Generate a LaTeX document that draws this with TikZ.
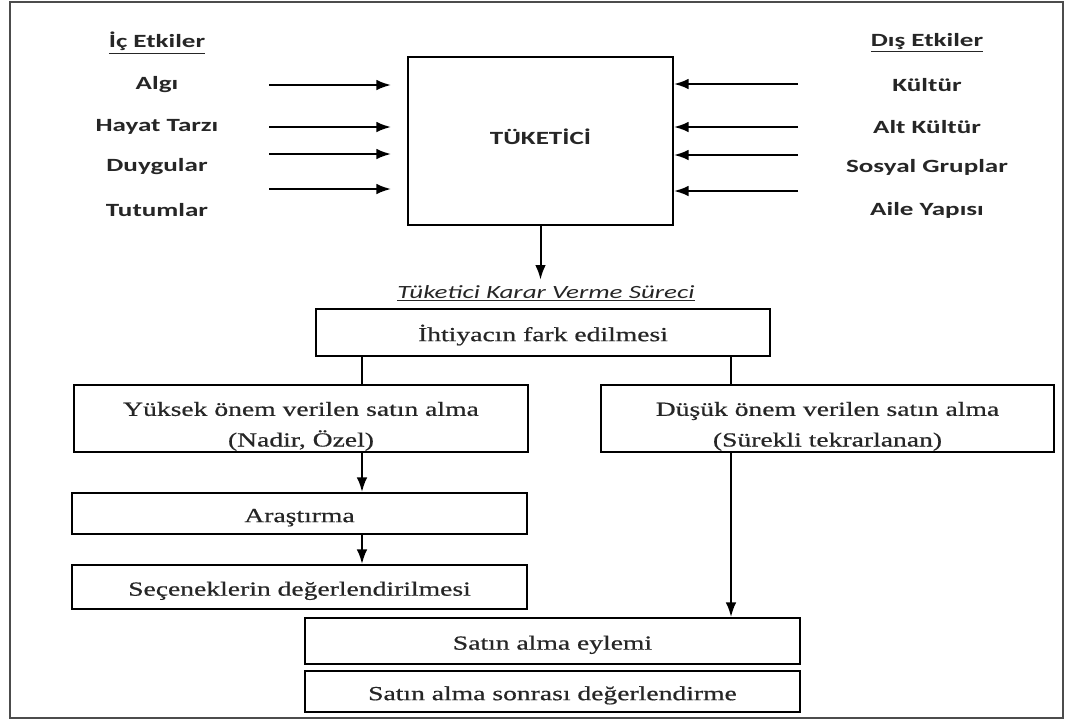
\documentclass[tikz,border=0pt]{standalone}
\usepackage{fontspec}
\newfontfamily\boxfont{Liberation Serif}[FakeStretch=1.38, FakeBold=0.6]
\newfontfamily\labelfont{Carlito}[FakeStretch=1.45]
\usetikzlibrary{arrows.meta}

\def\pxu{0.75pt}

\begin{document}
\begin{tikzpicture}[x=0.75pt, y=-0.75pt, line width=1.5pt,
    stepbox/.style={draw, inner sep=0pt, align=center, text=black!85,
      text height=13pt, text depth=0pt,
      font=\boxfont\fontsize{15}{23}\selectfont},
    twoline/.style={text height=42pt, text depth=0pt},
    factor/.style={text=black!85, font=\labelfont\bfseries\fontsize{14}{17}\selectfont},
    heading/.style={factor},
    flow/.style={-{Latex[length=11pt, width=8pt]}},
    link/.style={}]

  \useasboundingbox (0,0) rectangle (1076,722);

  % ===== Outer frame =====
  \draw[gray!60!black, line width=1.8pt] (10,2) rectangle (1063,718);

  % ===== Consumer box =====
  \node[stepbox, minimum width=265*\pxu, minimum height=168*\pxu, text depth=8pt,
        font=\labelfont\bfseries\fontsize{14}{17}\selectfont] (tuketici) at (540.5,141) {TÜKETİCİ};

  % ===== Internal influences (left) =====
  \node[heading] (ic) at (157,43) {\underline{İç Etkiler}};
  \node[factor] (algi)    at (157,85)  {Algı};
  \node[factor] (hayat)   at (157,127) {Hayat Tarzı};
  \node[factor] (duygu)   at (157,167) {Duygular};
  \node[factor] (tutum)   at (157,210) {Tutumlar};

  \coordinate (inA) at (269,85);
  \coordinate (inB) at (269,127);
  \coordinate (inC) at (269,154);
  \coordinate (inD) at (269,189);
  \foreach \c in {inA,inB,inC,inD}
    \draw[flow, shorten >=12pt] (\c) -- (\c -| tuketici.west);

  % ===== External influences (right) =====
  \node[heading] (dis) at (927,43) {\underline{Dış Etkiler}};
  \node[factor] (kultur)  at (927,85)  {Kültür};
  \node[factor] (altk)    at (927,127) {Alt Kültür};
  \node[factor] (sosyal)  at (927,167) {Sosyal Gruplar};
  \node[factor] (aile)    at (927,210) {Aile Yapısı};

  \coordinate (exA) at (798,84);
  \coordinate (exB) at (798,127);
  \coordinate (exC) at (798,155);
  \coordinate (exD) at (798,191);
  \foreach \c in {exA,exB,exC,exD}
    \draw[flow] (\c) -- (\c -| tuketici.east);

  % ===== Decision process =====
  \node[text=black!85, font=\labelfont\itshape\fontsize{14}{16}\selectfont]
    (karar) at (546,293) {\underline{Tüketici Karar Verme Süreci}};
  \draw[flow] (tuketici.south) -- (tuketici.south |- karar.north);

  \node[stepbox, minimum width=454*\pxu, minimum height=47*\pxu] (ihtiyac) at (543,332.5)
    {İhtiyacın fark edilmesi};

  \node[stepbox, twoline, minimum width=454*\pxu, minimum height=67*\pxu] (yuksek) at (301,418.5)
    {Yüksek önem verilen satın alma\\(Nadir, Özel)};
  \node[stepbox, twoline, minimum width=453*\pxu, minimum height=67*\pxu] (dusuk) at (827.5,418.5)
    {Düşük önem verilen satın alma\\(Sürekli tekrarlanan)};

  \node[stepbox, minimum width=455*\pxu, minimum height=41*\pxu] (arastirma) at (299.5,513.5)
    {Araştırma};
  \node[stepbox, minimum width=455*\pxu, minimum height=44*\pxu] (secenek) at (299.5,587)
    {Seçeneklerin değerlendirilmesi};

  \node[stepbox, minimum width=495*\pxu, minimum height=46*\pxu] (eylem) at (552.5,641)
    {Satın alma eylemi};
  \node[stepbox, minimum width=495*\pxu, minimum height=41*\pxu] (sonrasi) at (552.5,691.5)
    {Satın alma sonrası değerlendirme};

  % branch columns
  \coordinate (colL) at (362,0);
  \coordinate (colR) at (731,0);

  \draw[link] (ihtiyac.south -| colL) -- (yuksek.north -| colL);
  \draw[link] (ihtiyac.south -| colR) -- (dusuk.north -| colR);

  \draw[flow] (yuksek.south -| colL) -- (arastirma.north -| colL);
  \draw[flow] (arastirma.south -| colL) -- (secenek.north -| colL);
  \draw[flow] (dusuk.south -| colR) -- (eylem.north -| colR);

\end{tikzpicture}
\end{document}
